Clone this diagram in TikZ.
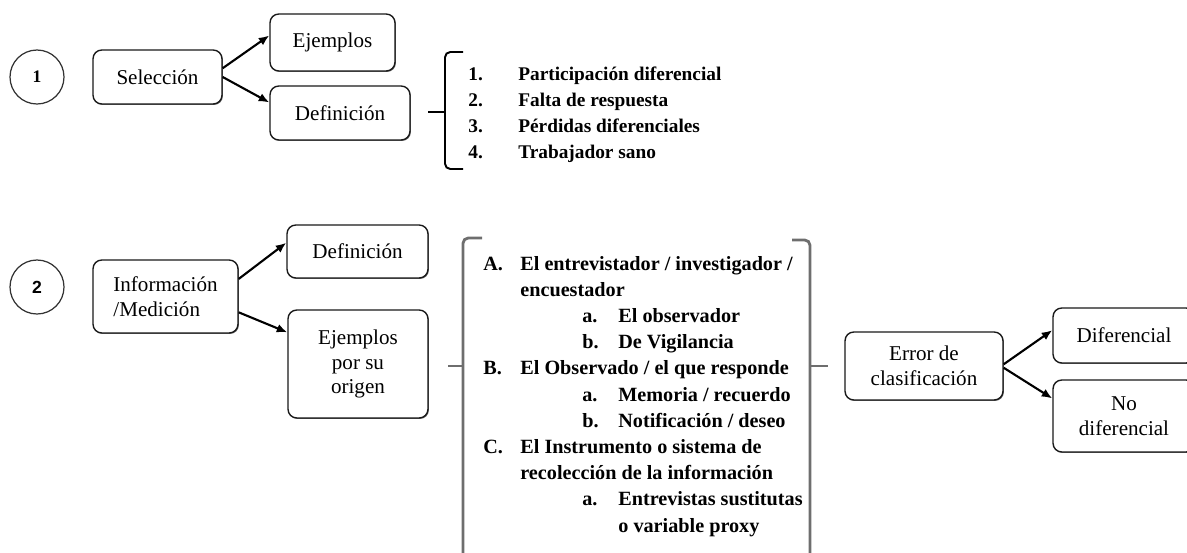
\documentclass[tikz,border=0pt]{standalone}
\usepackage{fontspec}
\setmainfont{Liberation Serif}
\newfontfamily\numsans{Liberation Sans}
\usepackage{tikz}
\usetikzlibrary{arrows.meta, shadows}
\usepackage{xcolor}
\definecolor{boxline}{RGB}{25,25,25}
\definecolor{bracketgray}{RGB}{110,110,110}
\tikzset{
  basebox/.style={
    rectangle, rounded corners=5pt, draw=boxline, line width=0.8pt, fill=white,
    align=center, inner sep=2pt, font=\fontsize{12}{14.2}\selectfont,
    drop shadow={shadow xshift=0.5pt, shadow yshift=-0.5pt, fill=black!60, opacity=1}
  },
  numcircle/.style={circle, draw=black!80, line width=0.7pt, minimum size=1.08cm, inner sep=0pt},
  listtext/.style={anchor=base west, inner sep=0pt, font=\fontsize{11}{13}\bfseries\selectfont},
  itemtext/.style={anchor=base west, inner sep=0pt, font=\fontsize{11.5}{14}\bfseries\selectfont},
  arrow/.style={-{Latex[length=6pt,width=5pt]}, line width=1.2pt, color=black},
  listbracket/.style={line width=1.1pt, color=black, rounded corners=3pt},
  bigbracket/.style={line width=1.6pt, color=bracketgray, rounded corners=3pt}
}

\begin{document}
\begin{tikzpicture}[x=0.02cm, y=-0.02cm]
  \useasboundingbox (0,0) rectangle (1187,552);

  \node[numcircle, font=\fontsize{10}{12}\bfseries\selectfont] (uno) at (37,77) {1};
  \node[numcircle, font=\numsans\fontsize{10}{12}\bfseries\selectfont] (dos) at (37,287) {2};

  \node[basebox, minimum width=2.58cm, minimum height=1.08cm] (sel) at (157.5,77) {Selección};
  \node[basebox, minimum width=2.5cm, minimum height=1.14cm] (ej1) at (332.5,42.5) {Ejemplos};
  \node[basebox, minimum width=2.8cm, minimum height=1.08cm] (def1) at (340,113) {Definición};

  \draw[arrow] ([yshift=5pt]sel.east) -- ([yshift=4pt]ej1.west);
  \draw[arrow] (sel.east) -- ([yshift=6pt]def1.west);

  \draw[listbracket] (463,52) -- (445,52) -- (445,169) -- (463,169);
  \draw[listbracket] (428,112) -- (445,112);
  \foreach \n/\txt [count=\k] in {1./Participación diferencial, 2./Falta de respuesta,
                                  3./Pérdidas diferenciales, 4./Trabajador sano} {
    \node[listtext] (num\k) at (468,{54+26*\k}) {\n};
    \node[listtext] (sesgo\k) at (518,{54+26*\k}) {\txt};
  }

  \node[basebox, align=left, minimum width=2.9cm, minimum height=1.46cm] (info) at (165.5,296.5)
        {Información\\/Medición};
  \node[basebox, minimum width=2.82cm, minimum height=1.06cm] (def2) at (357.5,251.5) {Definición};
  \node[basebox, minimum width=2.8cm, minimum height=2.16cm] (ejorig) at (358,364)
        {Ejemplos\\por su\\origen};

  \draw[arrow] ([yshift=10pt]info.east) -- ([yshift=5pt]def2.west);
  \draw[arrow] ([yshift=-9pt]info.east) -- ([yshift=18pt]ejorig.west);

  \draw[bigbracket] (482,238) -- (463,238) -- (463,556);
  \draw[bigbracket] (448,366) -- (463,366);
  \draw[bigbracket] (792,240) -- (810,240) -- (810,556);
  \draw[bigbracket] (810,366) -- (828,366);
  \foreach \lx/\tx/\lab/\txt [count=\k] in {
      483/520/A./{El entrevistador / investigador /},
      483/520/{}/encuestador,
      582/618/a./El observador,
      582/618/b./De Vigilancia,
      483/520/B./{El Observado / el que responde},
      582/618/a./{Memoria / recuerdo},
      582/618/b./{Notificación / deseo},
      483/520/C./El Instrumento o sistema de,
      483/520/{}/recolección de la información,
      582/618/a./Entrevistas sustitutas,
      582/618/{}/o variable proxy} {
    \node[itemtext] (lab\k) at (\lx,{243.8+26.2*\k}) {\lab};
    \node[itemtext] (item\k) at (\tx,{243.8+26.2*\k}) {\txt};
  }

  \node[basebox, minimum width=3.16cm, minimum height=1.36cm] (err) at (924,366)
        {Error de\\clasificación};
  \node[basebox, minimum width=2.84cm, minimum height=1.1cm] (dif) at (1124,335.5) {Diferencial};
  \node[basebox, minimum width=2.84cm, minimum height=1.44cm] (nodif) at (1124,416)
        {No\\diferencial};

  \draw[arrow] ([yshift=1pt]err.east) -- ([yshift=3pt]dif.west);
  \draw[arrow] ([yshift=-1pt]err.east) -- ([yshift=10pt]nodif.west);
\end{tikzpicture}
\end{document}
